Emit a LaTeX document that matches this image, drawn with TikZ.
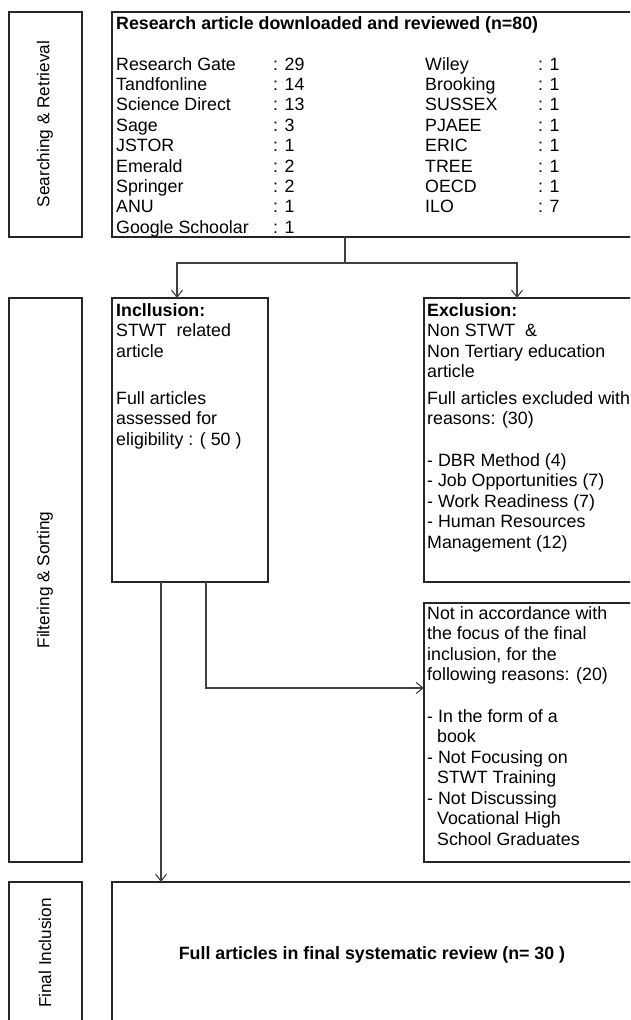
\documentclass[tikz,border=0pt]{standalone}
\usepackage{fontspec}
\setmainfont{Liberation Sans}
\usetikzlibrary{arrows.meta}
\begin{document}
\begin{tikzpicture}[x=1pt,y=-1pt,
  box/.style={draw=black!85, line width=1.3pt, inner sep=0pt, outer sep=0pt, anchor=north west},
  txt/.style={anchor=base west, inner sep=0pt, font=\fontsize{17.8}{20.4}\selectfont},
  btxt/.style={anchor=base west, inner sep=0pt, font=\fontsize{17.8}{20.4}\selectfont\bfseries},
  stagetxt/.style={rotate=90, inner sep=0pt, font=\fontsize{17.2}{20}\selectfont},
  conn/.style={draw=black!75, line width=1.1pt},
  arr/.style={conn, -{Straight Barb[length=7pt,width=11pt]}}]
\useasboundingbox (0,0) rectangle (630,1020);
\clip (0,0) rectangle (630,1020);

% stage boxes
\node[box, minimum width=73pt, minimum height=225pt] (s1) at (9,12) {};
\node[box, minimum width=73pt, minimum height=564pt] (s2) at (9,298) {};
\node[box, minimum width=73pt, minimum height=200pt] (s3) at (9,882) {};
\node[stagetxt] (s1t) at (45,124) {Searching \& Retrieval};
\node[stagetxt] (s2t) at (45,580) {Filtering \& Sorting};
\node[stagetxt] (s3t) at (45,953) {Final Inclusion};

% content boxes
\node[box, minimum width=540pt, minimum height=225pt] (top) at (112,12) {};
\node[box, minimum width=156pt, minimum height=284pt] (inc) at (112,298) {};
\node[box, minimum width=240pt, minimum height=284pt] (exc) at (424,298) {};
\node[box, minimum width=240pt, minimum height=259pt] (nia) at (424,603) {};
\node[box, minimum width=540pt, minimum height=200pt] (fin) at (112,882) {};

% top box text
\node[btxt] (title) at (116,29) {Research article downloaded and reviewed (n=80)};
\foreach \n/\v [count=\i from 0] in {Research Gate/29, Tandfonline/14, Science Direct/13, Sage/3, JSTOR/1, Emerald/2, Springer/2, ANU/1, Google Schoolar/1}{
  \node[txt] (l\i) at (116,{70+20.4*\i}) {\n};
  \node[txt] (lv\i) at (273,{70+20.4*\i}) {: \v};
}
\foreach \n/\v [count=\i from 0] in {Wiley/1, Brooking/1, SUSSEX/1, PJAEE/1, ERIC/1, TREE/1, OECD/1, ILO/7}{
  \node[txt] (r\i) at (425,{70+20.4*\i}) {\n};
  \node[txt] (rv\i) at (538,{70+20.4*\i}) {: \v};
}

% inclusion text
\node[btxt] (inc1) at (116,316) {Incllusion:};
\node[txt] (inc2) at (116,336.5) {STWT\ \ related};
\node[txt] (inc3) at (116,357) {article};
\node[txt] (inc4) at (116,404) {Full articles};
\node[txt] (inc5) at (116,424.5) {assessed for};
\node[txt] (inc6) at (116,445) {eligibility : ( 50 )};

% exclusion text
\node[btxt] (exc1) at (427,316) {Exclusion:};
\node[txt] (exc2) at (427,336.5) {Non STWT\ \ \&};
\node[txt] (exc3) at (427,357) {Non Tertiary education};
\node[txt] (exc4) at (427,377) {article};
\node[txt] (exc5) at (427,404) {Full articles excluded with};
\node[txt] (exc6) at (427,424.5) {reasons: (30)};
\node[txt] (exc7) at (427,466) {- DBR Method (4)};
\node[txt] (exc8) at (427,486.5) {- Job Opportunities (7)};
\node[txt] (exc9) at (427,507) {- Work Readiness (7)};
\node[txt] (exc10) at (427,527.5) {- Human Resources};
\node[txt] (exc11) at (427,548) {Management (12)};

% not in accordance text
\node[txt] (nia1) at (427,619) {Not in accordance with};
\node[txt] (nia2) at (427,639.5) {the focus of the final};
\node[txt] (nia3) at (427,660) {inclusion, for the};
\node[txt] (nia4) at (427,680.5) {following reasons: (20)};
\node[txt] (nia5) at (427,722) {- In the form of a};
\node[txt] (nia6) at (437,742.5) {book};
\node[txt] (nia7) at (427,763) {- Not Focusing on};
\node[txt] (nia8) at (437,783.5) {STWT Training};
\node[txt] (nia9) at (427,804) {- Not Discussing};
\node[txt] (nia10) at (437,824.5) {Vocational High};
\node[txt] (nia11) at (437,845) {School Graduates};

% final text
\node[btxt, anchor=base] (fint) at (372,959) {Full articles in final systematic review (n= 30 )};

% connectors
\coordinate (split) at (345,263);
\draw[conn] (split |- top.south) -- (split);
\draw[arr] (split) -| ([xshift=65pt]inc.north west);
\draw[arr] (split) -| ([xshift=93pt]exc.north west);
\draw[arr] ([xshift=94pt]inc.south west) |- ([yshift=-85pt]nia.north west);
\draw[arr] ([xshift=49pt]inc.south west) -- ([xshift=49pt]fin.north west);
\end{tikzpicture}
\end{document}
